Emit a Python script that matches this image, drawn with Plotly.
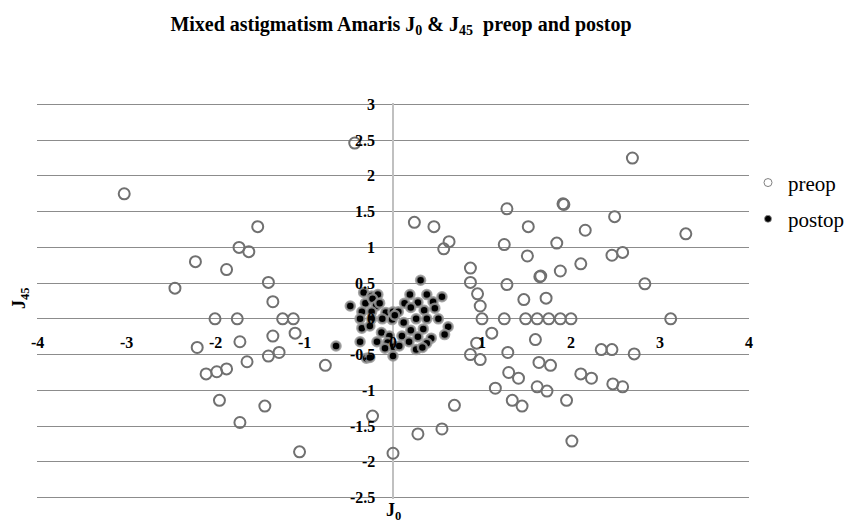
import plotly.graph_objects as go

# ---- data ----
preop_j0 = [-0.43, -3.02, -1.52, -1.73, -1.62, -2.22, -1.87, -2.45, -1.40, -1.35,
            0.24, 0.46, 0.63, 0.57, 0.87, 0.87, 0.95, 0.98, 1.28, 1.25,
            1.28, 1.47, 1.52, 1.51, 1.65, 1.66, 1.72, 1.91, 1.92, 1.84,
            1.88, 2.11, 2.16, 2.49, 2.46, 2.58, 2.69, 2.83, 3.29, 1.00,
            1.25, 1.49, 1.62, 1.75, 1.88, 2.00, 3.12, 1.11, 0.94, 0.87,
            0.98, 1.29, 1.60, 1.64, 1.77, 1.30, 1.41, 1.15, 1.62, 1.73,
            1.34, 1.45, 1.95, 2.11, 2.23, 2.34, 2.46, 2.71, 2.47, 2.58,
            0.69, 0.55, 0.28, 2.01, -2.00, -1.75, -1.24, -1.12, -1.10, -1.35,
            -1.72, -2.20, -1.28, -1.40, -1.64, -1.87, -1.98, -2.10, -0.76, -1.95,
            -1.44, -1.72, -1.05, -0.23, 0.00]
preop_j45 = [2.46, 1.75, 1.29, 1.00, 0.94, 0.80, 0.69, 0.43, 0.51, 0.24,
             1.35, 1.29, 1.08, 0.98, 0.71, 0.51, 0.35, 0.18, 1.54, 1.04,
             0.48, 0.27, 1.29, 0.88, 0.59, 0.60, 0.29, 1.61, 1.60, 1.06,
             0.67, 0.77, 1.24, 1.43, 0.89, 0.93, 2.25, 0.49, 1.19, 0.00,
             0.00, 0.00, 0.00, 0.00, 0.00, 0.00, 0.00, -0.20, -0.34, -0.50,
             -0.57, -0.47, -0.29, -0.61, -0.65, -0.75, -0.83, -0.97, -0.95, -1.01,
             -1.14, -1.22, -1.14, -0.77, -0.83, -0.43, -0.43, -0.49, -0.91, -0.95,
             -1.21, -1.54, -1.61, -1.71, 0.00, 0.00, 0.00, 0.00, -0.20, -0.24,
             -0.32, -0.40, -0.47, -0.52, -0.60, -0.70, -0.74, -0.77, -0.65, -1.14,
             -1.22, -1.45, -1.86, -1.36, -1.88]

postop_j0 = [-0.33, -0.24, -0.17, -0.48, -0.31, -0.23, -0.19, -0.15, -0.35, -0.24,
             -0.08, 0.00, -0.37, -0.24, -0.12, -0.01, -0.35, -0.26, -0.13, -0.04,
             -0.18, -0.37, -0.06, 0.00, -0.64, -0.30, -0.26, 0.00, 0.31, 0.19,
             0.38, 0.55, 0.13, 0.28, 0.45, 0.20, 0.47, 0.06, 0.35, 0.12,
             0.26, 0.38, 0.51, 0.62, 0.58, 0.20, 0.34, 0.10, 0.28, 0.43,
             0.18, 0.38, 0.07, 0.26, 0.33, -0.09, 0.02]
postop_j45 = [0.37, 0.32, 0.34, 0.18, 0.22, 0.28, 0.18, 0.22, 0.10, 0.10,
              0.09, 0.10, 0.00, 0.00, 0.00, -0.01, -0.13, -0.10, -0.19, -0.24,
              -0.32, -0.32, -0.33, -0.39, -0.38, -0.55, -0.54, -0.52, 0.54, 0.34,
              0.34, 0.31, 0.22, 0.23, 0.24, 0.16, 0.15, 0.10, 0.12, -0.05,
              0.00, 0.00, 0.00, -0.11, -0.22, -0.16, -0.14, -0.24, -0.25, -0.27,
              -0.32, -0.34, -0.38, -0.43, -0.40, -0.41, 0.05]

x_ticks = [-4, -3, -2, -1, 0, 1, 2, 3, 4]
x_tick_labels = ["-4", "-3", "-2", "-1", "0", "1", "2", "3", "4"]
y_ticks = [-2.5, -2, -1.5, -1, -0.5, 0, 0.5, 1, 1.5, 2, 2.5, 3]
y_tick_labels = ["-2.5", "-2", "-1.5", "-1", "-0.5", "0", "0.5", "1", "1.5", "2", "2.5", "3"]

SERIF = "Times New Roman, Liberation Serif, DejaVu Serif, serif"
PRE_LINE = "#707070"

L, R, T, B = 37, 104, 103, 28
PW, PH = 853 - L - R, 527 - T - B

fig = go.Figure()

fig.add_trace(go.Scatter(
    x=preop_j0, y=preop_j45, mode="markers", name="preop", showlegend=False,
    marker=dict(symbol="circle", size=11, color="rgba(255,255,255,0)",
                line=dict(color=PRE_LINE, width=2)),
    cliponaxis=False))
fig.add_trace(go.Scatter(
    x=postop_j0, y=postop_j45, mode="markers", name="postop", showlegend=False,
    marker=dict(symbol="circle", size=9, color="black",
                line=dict(color="rgba(150,150,150,0.85)", width=2.5)),
    cliponaxis=False))

# legend-only entries with small markers
fig.add_trace(go.Scatter(
    x=[None], y=[None], mode="markers", name="preop", legendgroup="a",
    marker=dict(symbol="circle", size=8, color="white",
                line=dict(color="#808080", width=1))))
fig.add_trace(go.Scatter(
    x=[None], y=[None], mode="markers", name="postop", legendgroup="b",
    marker=dict(symbol="circle", size=7, color="black",
                line=dict(color="rgba(150,150,150,0.8)", width=1))))

annotations = []
for v, t in zip(x_ticks, x_tick_labels):
    annotations.append(dict(x=v, y=0, xref="x", yref="y", text="<b>%s</b>" % t,
                            showarrow=False, yshift=-24, xanchor="center", yanchor="middle",
                            font=dict(family=SERIF, size=16, color="black")))
for v, t in zip(y_ticks, y_tick_labels):
    annotations.append(dict(x=0, y=v, xref="x", yref="y", text="<b>%s</b>" % t,
                            showarrow=False, xshift=-16, xanchor="right", yanchor="middle",
                            font=dict(family=SERIF, size=16, color="black")))
annotations.append(dict(x=0, y=-2.5, xref="x", yref="y", text="<b>J<sub>0</sub></b>",
                        showarrow=False, yshift=-14, xanchor="center", yanchor="middle",
                        font=dict(family=SERIF, size=18, color="black")))
annotations.append(dict(x=(20 - L) / PW, y=(527 - B - 298) / PH, xref="paper", yref="paper",
                        text="<b>J<sub>45</sub></b>", textangle=-90,
                        showarrow=False, xanchor="center", yanchor="middle",
                        font=dict(family=SERIF, size=18, color="black")))

fig.update_layout(
    width=853, height=527,
    paper_bgcolor="white", plot_bgcolor="white",
    margin=dict(l=L, r=R, t=T, b=B, autoexpand=False),
    title=dict(text="<b>Mixed astigmatism Amaris J<sub>0</sub> &amp; J<sub>45</sub>  preop and postop</b>",
               x=401 / 853, xanchor="center", y=1 - 24 / 527, yanchor="middle",
               font=dict(family=SERIF, size=20, color="black")),
    xaxis=dict(range=[-4, 4], showgrid=False, zeroline=True, zerolinecolor="#c0c0c0",
               zerolinewidth=2, showticklabels=False, ticks="", showline=False),
    yaxis=dict(range=[-2.52, 3.02], tickmode="array", tickvals=y_ticks, showgrid=True,
               gridcolor="#8c8c8c", gridwidth=1, zeroline=False, showticklabels=False,
               ticks="", showline=False),
    legend=dict(x=(748 - L) / PW, y=0.85, xanchor="left", yanchor="top",
                font=dict(family=SERIF, size=21, color="black"),
                tracegroupgap=6, traceorder="grouped", itemsizing="trace",
                bgcolor="rgba(0,0,0,0)"),
    annotations=annotations,
    showlegend=True,
)

fig.write_html("out.html", config={"displayModeBar": False},
               post_script="document.body.style.margin='0px';")
